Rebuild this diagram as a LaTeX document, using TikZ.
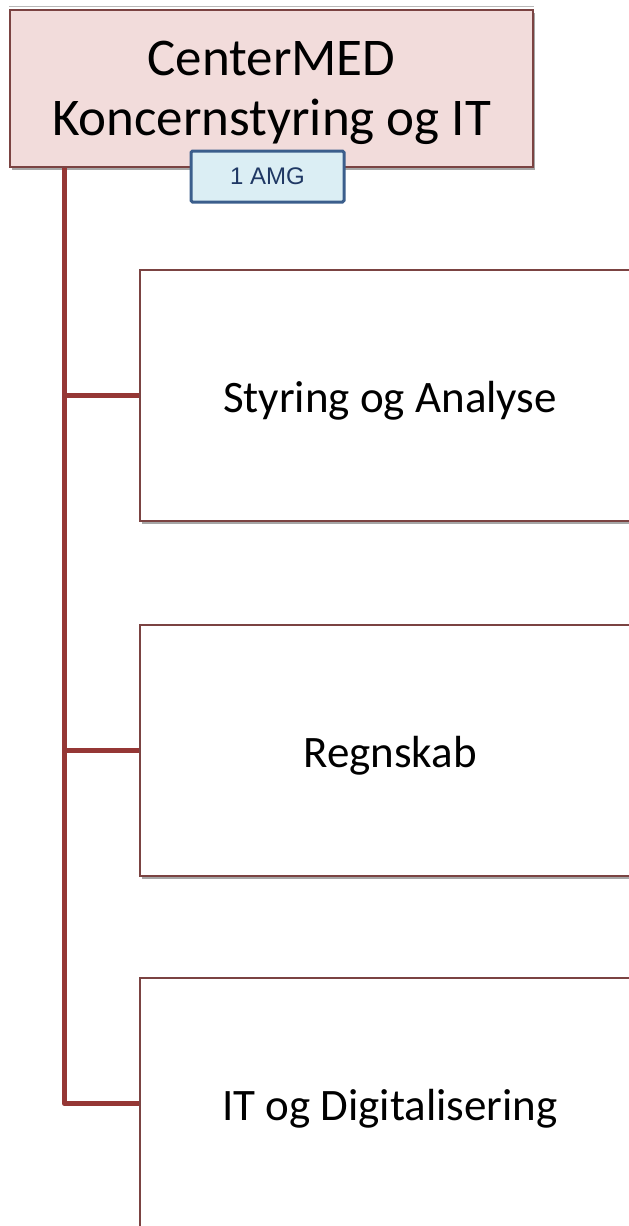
\documentclass[tikz,border=0pt]{standalone}
\usepackage{fontspec}
\setmainfont{Carlito}
\newfontfamily\badgefont{Liberation Sans}
\usetikzlibrary{shadows}
\definecolor{linkred}{HTML}{953735}
\definecolor{boxedge}{HTML}{7B4342}
\definecolor{headfill}{HTML}{F2DCDB}
\definecolor{badgefill}{HTML}{DBEEF4}
\definecolor{badgeedge}{HTML}{3B5E8C}
\definecolor{badgetext}{HTML}{1F3864}
\begin{document}
\begin{tikzpicture}[x=1pt,y=-1pt,
  orgshadow/.style={drop shadow={shadow xshift=2pt, shadow yshift=-3pt, opacity=0.35, fill=black}},
  headbox/.style={draw=boxedge, line width=1.4pt, fill=headfill, orgshadow,
    minimum width=523pt, minimum height=157pt, inner sep=0pt, align=center,
    font=\fontsize{53}{60}\selectfont},
  unitbox/.style={draw=boxedge, line width=1.4pt, fill=white, orgshadow,
    minimum width=500pt, minimum height=251pt, inner sep=0pt,
    text height=42pt, text depth=9pt,
    font=\fontsize{45}{52}\selectfont},
  badge/.style={draw=badgeedge, line width=3pt, fill=badgefill, rounded corners=1.5pt,
    minimum width=153pt, minimum height=51pt, inner sep=0pt, text=badgetext,
    font=\badgefont\fontsize{24}{28}\selectfont},
  link/.style={draw=linkred, line width=5pt, line join=round}
]
\useasboundingbox (0,0) rectangle (629,1226);
\clip (0,0) rectangle (629,1226);

% head of the organisation
\node[headbox] (head) at (271.5,88.5) {\rule{0pt}{43pt}CenterMED\\Koncernstyring og IT};
\draw[gray!55, line width=1pt] ([yshift=3pt]head.north west) -- ([yshift=3pt]head.north east);

% units
\node[unitbox] (c1) at (390,395.5) {Styring og Analyse};
\node[unitbox] (c2) at (390,750.5) {Regnskab};
\node[unitbox] (c3) at (390,1103.5) {IT og Digitalisering};

% trunk and branches
\coordinate (trunktop) at ([xshift=55pt]head.south west);
\draw[link] (trunktop) |- (c3.west);
\draw[link] (trunktop |- c1.west) -- (c1.west);
\draw[link] (trunktop |- c2.west) -- (c2.west);

% committee badge
\node[badge] (amg) at (267.5,176.5) {1 AMG};
\end{tikzpicture}
\end{document}
